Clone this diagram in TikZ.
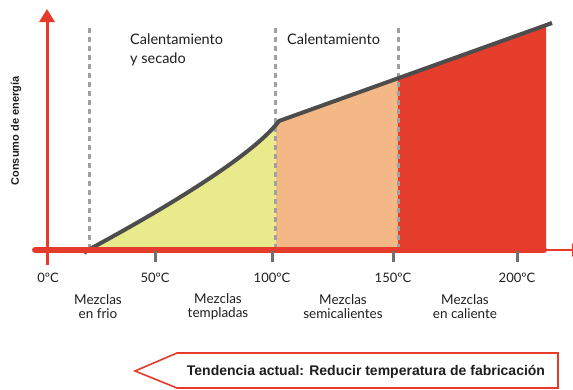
\documentclass[tikz,border=0pt]{standalone}
\usepackage{fontspec}
\setmainfont{Lato}
\newfontfamily\boldsans{Liberation Sans}
\usetikzlibrary{arrows.meta}
\definecolor{axred}{HTML}{E63A2B}
\definecolor{fillyel}{HTML}{E9EA8C}
\definecolor{fillora}{HTML}{F4B887}
\definecolor{fillred}{HTML}{E43D2B}
\definecolor{curvegray}{HTML}{4D4D4D}
\definecolor{dashgray}{HTML}{A0A0A0}
\definecolor{tickgray}{HTML}{707070}
\definecolor{txt}{HTML}{1E1E1E}
\tikzset{
  sep/.style={draw=dashgray, line width=3pt, dash pattern=on 5pt off 4pt},
  tickmark/.style={draw=tickgray, line width=3pt},
  ticklbl/.style={font=\fontsize{13}{14}\selectfont, text=txt, inner sep=0pt},
  catlbl/.style={font=\fontsize{13.5}{14}\selectfont, text=txt, align=center, inner sep=0pt},
  headlbl/.style={font=\fontsize{14.5}{19}\selectfont, text=txt, align=left, inner sep=0pt, anchor=north west},
}
\begin{document}
\begin{tikzpicture}[x=1pt,y=-1pt]
\useasboundingbox (0,0) rectangle (573,389);
% key points
\coordinate (c0) at (84,253);
\coordinate (cs) at (88,250);
\coordinate (k) at (279,121);
\coordinate (p150) at (398,78);
\coordinate (pend) at (546,25);
\coordinate (cend) at (552,23);
% fills
\fill[fillyel] (cs) .. controls (140,222) and (250,160) .. (k) -- (279,250) -- cycle;
\fill[fillora] (276,250) -- (276,125) -- (k) -- (p150) -- (398,250) -- cycle;
\fill[fillred] (398,250) -- (p150) -- (pend) -- (546,250) -- cycle;
% separators
\foreach \n/\x in {s1/89, s2/275, s3/398} {
  \coordinate (\n t) at (\x,28);
  \coordinate (\n b) at (\x,250);
  \draw[sep] (\n t) -- (\n b);
}
% curve
\draw[curvegray, line width=4pt, line join=round]
  (c0) -- (cs) .. controls (140,222) and (250,160) .. (k) -- (cend);
% axes
\coordinate (xa0) at (35,250);
\coordinate (xa1) at (544,250);
\coordinate (xa2) at (582,250);
\draw[axred, line width=6pt, line cap=round] (xa0) -- (xa1);
\draw[axred, line width=2pt, -{Triangle[length=10pt,width=13pt]}] (xa1) -- (xa2);
\coordinate (ya0) at (47,265);
\coordinate (ya1) at (47,9);
\draw[axred, line width=3pt, -{Triangle[length=13pt,width=15pt]}] (ya0) -- (ya1);
% ticks
\foreach \n/\x in {t50/155, t100/272, t150/393, t200/517} {
  \coordinate (\n a) at (\x,251);
  \coordinate (\n b) at (\x,262);
  \draw[tickmark] (\n a) -- (\n b);
}
% tick labels
\node[ticklbl] (l0) at (48,278) {0ºC};
\node[ticklbl] (l50) at (155,278) {50ºC};
\node[ticklbl] (l100) at (272,278) {100ºC};
\node[ticklbl] (l150) at (393,278) {150ºC};
\node[ticklbl] (l200) at (517,278) {200ºC};
% categories
\node[catlbl] (m1) at (98,307) {Mezclas\\en frio};
\node[catlbl] (m2) at (218,307) {Mezclas\\templadas};
\node[catlbl] (m3) at (343,307) {Mezclas\\semicalientes};
\node[catlbl] (m4) at (465,307) {Mezclas\\en caliente};
% headers
\node[headlbl] (h1) at (130,34) {Calentamiento\\y secado};
\node[headlbl] (h2) at (287,34) {Calentamiento};
% y label
\node[font=\boldsans\bfseries\fontsize{11}{12}\selectfont, text=txt, rotate=90, inner sep=0pt] (ylab) at (16,131) {Consumo de energía};
% bottom arrow
\draw[axred, line width=1.6pt, fill=white, line join=miter]
  (177,353) -- (558,353) -- (558,388) -- (177,388) -- (135,371) -- cycle;
\node[font=\boldsans\bfseries\fontsize{14}{15}\selectfont, text=txt, inner sep=0pt] (trend) at (366,372) {Tendencia actual: Reducir temperatura de fabricación};
\end{tikzpicture}
\end{document}
